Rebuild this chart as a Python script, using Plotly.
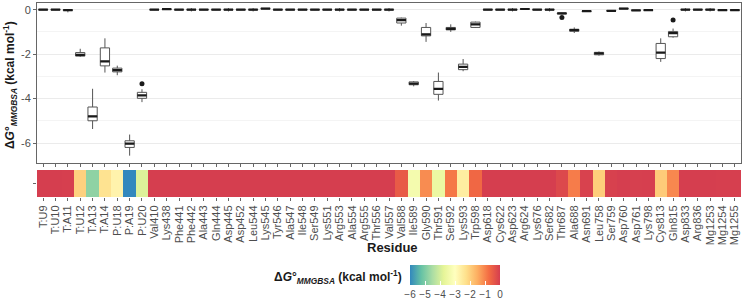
import plotly.graph_objects as go

residues = [
    "T:U9", "T:U10", "T:A11", "T:U12", "T:A13", "T:A14", "P:U18", "P:A19", "P:U20",
    "Val410", "Lys438", "Phe441", "Phe442", "Ala443", "Gln444", "Asp445", "Asp452",
    "Leu544", "Lys545", "Tyr546", "Ala547", "Ile548", "Ser549", "Lys551", "Arg553",
    "Ala554", "Arg555", "Thr556", "Val557", "Val588", "Ile589", "Gly590", "Thr591",
    "Ser592", "Lys593", "Trp598", "Asp618", "Cys622", "Asp623", "Arg624", "Lys676",
    "Ser682", "Thr687", "Ala688", "Asn691", "Leu758", "Ser759", "Asp760", "Asp761",
    "Lys798", "Cys813", "Gln815", "Asp833", "Arg836", "Mg1253", "Mg1254", "Mg1255",
]

# per-residue box statistics (kcal/mol)
median = [0, 0, -0.02, -2.03, -4.80, -2.33, -2.72, -6.03, -3.86,
          0, 0.02, 0, 0, 0, 0, 0, 0,
          0, 0.05, 0, 0, 0, 0, 0, 0, 0, 0, 0, 0,
          -0.47, -3.33, -1.11, -3.56, -0.86, -2.57, -0.66,
          0, 0, 0, 0.03, 0, 0, -0.17, -0.92, -0.07, -1.97, -0.05, 0.05, -0.03,
          -0.02, -1.93, -1.06, 0, 0, 0, -0.02, -0.02]
q1 = [-0.01, -0.01, -0.04, -2.09, -5.00, -2.53, -2.80, -6.20, -3.99,
      -0.01, 0.01, -0.01, -0.01, -0.01, -0.01, -0.01, -0.01,
      -0.01, 0.04, -0.01, -0.01, -0.01, -0.01, -0.01, -0.01, -0.01, -0.01, -0.01, -0.01,
      -0.60, -3.38, -1.18, -3.81, -0.91, -2.70, -0.80,
      -0.01, -0.01, -0.01, 0.02, -0.01, -0.01, -0.19, -0.97, -0.08, -2.03, -0.06, 0.04, -0.04,
      -0.03, -2.20, -1.22, -0.01, -0.01, -0.01, -0.03, -0.03]
q3 = [0.01, 0.01, 0.0, -1.93, -4.38, -1.72, -2.63, -5.90, -3.72,
      0.01, 0.03, 0.01, 0.01, 0.01, 0.01, 0.01, 0.01,
      0.01, 0.06, 0.01, 0.01, 0.01, 0.01, 0.01, 0.01, 0.01, 0.01, 0.01, 0.01,
      -0.38, -3.25, -0.80, -3.23, -0.80, -2.45, -0.56,
      0.01, 0.01, 0.01, 0.04, 0.01, 0.01, -0.15, -0.88, -0.06, -1.92, -0.04, 0.06, -0.02,
      -0.01, -1.52, -0.98, 0.01, 0.01, 0.01, -0.01, -0.01]
lower = [-0.02, -0.02, -0.12, -2.13, -5.37, -2.83, -2.95, -6.57, -4.16,
         -0.02, 0.0, -0.02, -0.08, -0.02, -0.02, -0.08, -0.02,
         -0.08, 0.03, -0.02, -0.02, -0.02, -0.02, -0.02, -0.08, -0.02, -0.02, -0.02, -0.08,
         -0.72, -3.45, -1.45, -4.09, -1.00, -2.77, -0.82,
         -0.02, -0.02, -0.08, 0.01, -0.02, -0.08, -0.22, -1.05, -0.09, -2.07, -0.07, 0.03, -0.05,
         -0.04, -2.35, -1.26, -0.08, -0.02, -0.08, -0.04, -0.04]
upper = [0.02, 0.02, 0.02, -1.76, -3.56, -1.29, -2.52, -5.62, -3.58,
         0.02, 0.04, 0.02, 0.07, 0.02, 0.02, 0.07, 0.02,
         0.07, 0.07, 0.02, 0.02, 0.02, 0.02, 0.02, 0.07, 0.02, 0.02, 0.02, 0.07,
         -0.36, -3.21, -0.60, -2.83, -0.66, -2.22, -0.54,
         0.02, 0.02, 0.07, 0.05, 0.02, 0.07, -0.14, -0.80, -0.05, -1.88, -0.03, 0.07, -0.01,
         0.0, -1.29, -0.85, 0.07, 0.02, 0.07, 0.0, 0.0]

outlier_res = ["P:U20", "Thr687", "Gln815"]
outlier_val = [-3.33, -0.35, -0.47]

colorbar_ticks = [-6, -5, -4, -3, -2, -1, 0]

spectral = [[0, "#3288BD"], [0.125, "#66C2A5"], [0.25, "#ABDDA4"], [0.375, "#E6F598"],
            [0.5, "#FFFFBF"], [0.625, "#FEE08B"], [0.75, "#FDAE61"], [0.875, "#F46D43"],
            [1, "#D53E4F"]]

FONT = "Liberation Sans, Arial, sans-serif"
H = 303
PW = 704  # plot area width in px

fig = go.Figure()

# boxes
fig.add_trace(go.Box(
    x=residues, q1=q1, median=median, q3=q3, lowerfence=lower, upperfence=upper,
    fillcolor="white", line=dict(color="#555555", width=1), whiskerwidth=0,
    width=0.75, boxpoints=False, xaxis="x", yaxis="y", showlegend=False,
))
# thick median bars
fig.add_trace(go.Box(
    x=residues, q1=median, median=median, q3=median, lowerfence=median, upperfence=median,
    fillcolor="black", line=dict(color="#1a1a1a", width=2.2), whiskerwidth=0,
    width=0.75, boxpoints=False, xaxis="x", yaxis="y", showlegend=False,
))
fig.add_trace(go.Scatter(
    x=outlier_res, y=outlier_val, mode="markers",
    marker=dict(color="#1a1a1a", size=5), xaxis="x", yaxis="y", showlegend=False,
))

# heatmap strip
fig.add_trace(go.Heatmap(
    x=residues, y=[" "], z=[median], zmin=-6, zmax=0, colorscale=spectral,
    xaxis="x2", yaxis="y2",
    colorbar=dict(
        orientation="h", lenmode="pixels", len=90, thickness=20,
        x=(455 - 37) / PW, xanchor="center", y=1 - 265 / H, yanchor="top",
        outlinewidth=0, tickvals=colorbar_ticks, tickangle=0,
        ticks="inside", ticklen=4, tickcolor="white", xpad=0, ypad=0,
        tickfont=dict(family=FONT, size=10, color="#4d4d4d"),
    ),
))

axis_font = dict(family=FONT, size=11, color="#4d4d4d")

fig.update_layout(
    width=749, height=H,
    margin=dict(l=37, r=8, t=0, b=0, autoexpand=False),
    paper_bgcolor="white", plot_bgcolor="white",
    boxmode="overlay",
    font=dict(family=FONT),
    xaxis=dict(
        domain=[0, 1], anchor="y", categoryorder="array", categoryarray=residues,
        showticklabels=False, ticks="outside", ticklen=3, tickcolor="#666666",
        tickmode="array", tickvals=residues,
        showgrid=False, showline=True, linecolor="#666666", mirror=True,
        range=[-0.5, len(residues) - 0.5], zeroline=False,
    ),
    yaxis=dict(
        domain=[1 - 163 / H, 1 - 3 / H], anchor="x",
        range=[-6.9, 0.3], tickvals=[0, -2, -4, -6], ticktext=["0", "-2", "-4", "-6"],
        ticks="outside", ticklen=3, tickcolor="#666666", tickfont=axis_font,
        showgrid=True, gridcolor="#EBEBEB", zeroline=False,
        minor=dict(dtick=1, tick0=0, showgrid=True, gridcolor="#F4F4F4"),
        showline=True, linecolor="#666666", mirror=True,
    ),
    xaxis2=dict(
        domain=[0, 1], anchor="y2", matches="x", categoryorder="array",
        categoryarray=residues, tickmode="array", tickvals=residues, ticktext=residues,
        tickangle=-90, tickfont=axis_font,
        ticks="outside", ticklen=3, tickcolor="#666666", showgrid=False,
        showline=False, zeroline=False,
    ),
    yaxis2=dict(
        domain=[1 - 197 / H, 1 - 170 / H], anchor="x2",
        ticks="outside", ticklen=3, tickcolor="#666666", tickfont=axis_font,
        showgrid=False, zeroline=False, showline=False,
    ),
    annotations=[
        dict(text="<b>Δ<i>G</i>°<sub><i>MMGBSA</i></sub> (kcal mol<sup>-1</sup>)</b>",
             xref="paper", yref="paper", x=(10 - 37) / PW, y=1 - 85 / H,
             xanchor="center", yanchor="middle",
             textangle=-90, showarrow=False, font=dict(family=FONT, size=12, color="#1a1a1a")),
        dict(text="<b>Residue</b>", xref="paper", yref="paper",
             x=(392 - 37) / PW, y=1 - 247 / H, xanchor="center", yanchor="middle",
             showarrow=False, font=dict(family=FONT, size=13, color="#1a1a1a")),
        dict(text="<b>Δ<i>G</i>°<sub><i>MMGBSA</i></sub> (kcal mol<sup>-1</sup>)</b>",
             xref="paper", yref="paper", x=(404 - 37) / PW, y=1 - 277 / H,
             xanchor="right", yanchor="middle", showarrow=False,
             font=dict(family=FONT, size=12, color="#1a1a1a")),
    ],
)

# drop the browser's default 8px body margin so the figure sits at the window corner
fig.write_html("out.html", config={"displayModeBar": False},
               post_script="document.body.style.margin='0px';")
